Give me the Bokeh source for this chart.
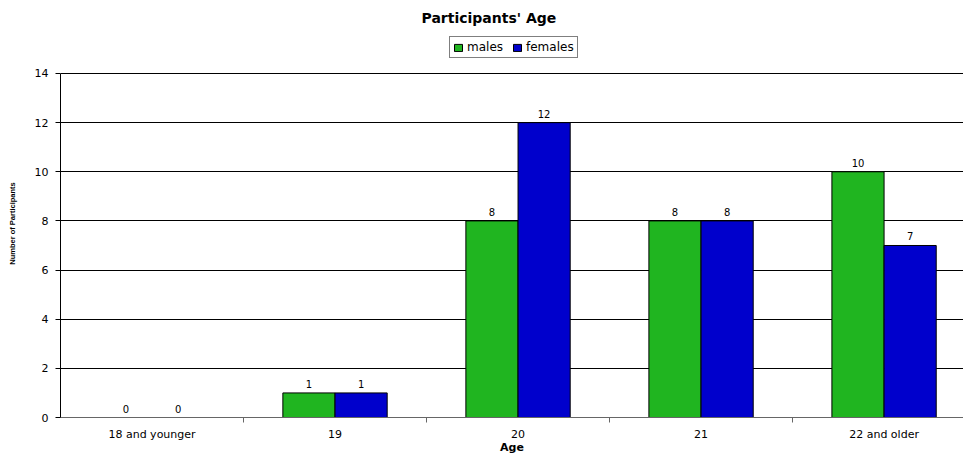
from bokeh.plotting import figure
from bokeh.models import (Range1d, FixedTicker, Legend, LegendItem, ColumnDataSource)
from bokeh.embed import file_html
from bokeh.resources import INLINE
from bokeh.core.properties import value

categories = ["18 and younger", "19", "20", "21", "22 and older"]
males = [0, 1, 8, 8, 10]
females = [0, 1, 12, 8, 7]
y_ticks = [0, 2, 4, 6, 8, 10, 12, 14]

GREEN = "#20b520"
BLUE = "#0000cc"
FONT = "DejaVu Sans"

idx = list(range(len(categories)))
off = 0.1425
bw = 0.285

src_m = ColumnDataSource(dict(x=[i - off for i in idx], top=males, lab=[str(v) for v in males]))
src_f = ColumnDataSource(dict(x=[i + off for i in idx], top=females, lab=[str(v) for v in females]))

# frame extends above the axis top (14) to leave room for the legend
p = figure(width=963, height=457, output_backend="svg", toolbar_location=None,
           x_range=Range1d(-0.5, 4.434), y_range=Range1d(0, 15.79),
           min_border_left=60, min_border_right=0, min_border_top=29, min_border_bottom=40)

p.title.text = "Participants' Age"
p.title.align = "left"
p.title.text_font = FONT
p.title.text_font_size = "14px"
p.title.text_font_style = "bold"
p.title.text_color = "#000000"
p.title.offset = 361
p.title.standoff = 7

rm = p.vbar(x="x", top="top", width=bw, bottom=0, source=src_m,
            fill_color=GREEN, line_color="#000000", line_width=1)
rf = p.vbar(x="x", top="top", width=bw, bottom=0, source=src_f,
            fill_color=BLUE, line_color="#000000", line_width=1)

for s in (src_m, src_f):
    p.text(x="x", y="top", text="lab", source=s, text_align="center",
           text_baseline="bottom", y_offset=-5, text_font=value(FONT),
           text_font_size="10px", text_color="#000000")

legend = Legend(items=[LegendItem(label="males", renderers=[rm]),
                       LegendItem(label="females", renderers=[rf])],
                orientation="horizontal", location=(389, 359),
                border_line_color="#000000", border_line_width=1,
                glyph_width=10, glyph_height=9, label_height=11,
                label_text_font=FONT, label_text_font_size="12px",
                label_text_color="#000000",
                padding=3, spacing=9, label_standoff=4, margin=0,
                background_fill_color="white")
p.add_layout(legend, "center")

# x axis: labels at centres, ticks at category boundaries
xa = p.xaxis[0]
xa.ticker = FixedTicker(ticks=idx, minor_ticks=[0.5, 1.5, 2.5, 3.5, 4.5])
xa.major_label_overrides = {i: c for i, c in zip(idx, categories)}
xa.major_tick_out = 0
xa.major_tick_in = 0
xa.minor_tick_out = 5
xa.minor_tick_in = 0
xa.minor_tick_line_color = "#666666"
xa.axis_line_color = "#666666"
xa.major_label_text_font = FONT
xa.major_label_text_font_size = "11px"
xa.major_label_text_color = "#000000"
xa.major_label_standoff = 5
xa.axis_label = "Age"
xa.axis_label_text_font = FONT
xa.axis_label_text_font_size = "11px"
xa.axis_label_text_font_style = "bold"
xa.axis_label_text_color = "#000000"
xa.axis_label_standoff = -3

ya = p.yaxis[0]
ya.ticker = FixedTicker(ticks=y_ticks, minor_ticks=[])
ya.bounds = (0, 14)
ya.major_tick_out = 5
ya.major_tick_in = 0
ya.axis_line_color = "#000000"
ya.major_tick_line_color = "#000000"
ya.major_label_text_font = FONT
ya.major_label_text_font_size = "11px"
ya.major_label_text_color = "#000000"
ya.major_label_standoff = 7
ya.axis_label = "Number of Participants"
ya.axis_label_text_font = "'Liberation Sans Narrow', 'Liberation Sans'"
ya.axis_label_text_font_size = "7.5px"
ya.axis_label_text_font_style = "bold"
ya.axis_label_text_color = "#000000"
ya.axis_label_standoff = 15

p.xgrid.visible = False
p.ygrid.ticker = FixedTicker(ticks=y_ticks)
p.ygrid.grid_line_color = "#000000"
p.ygrid.grid_line_width = 1
p.outline_line_color = None
p.background_fill_color = "white"
p.border_fill_color = "white"

open("out.html", "w").write(file_html(p, INLINE))
